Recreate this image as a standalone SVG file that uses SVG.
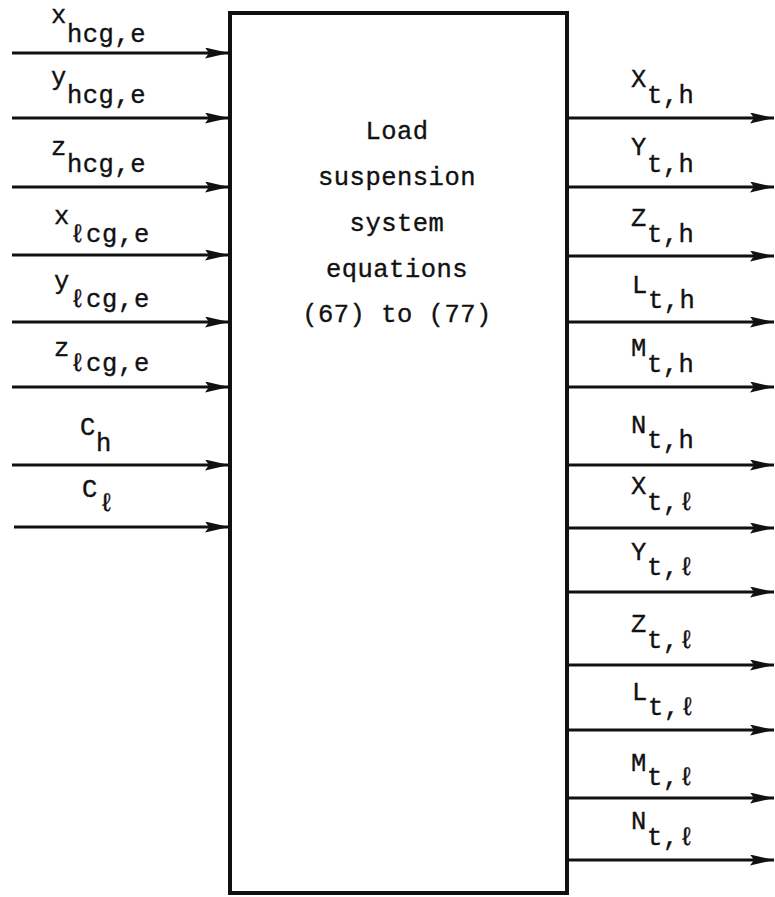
<svg xmlns="http://www.w3.org/2000/svg" width="775" height="897" viewBox="0 0 775 897">
<style>
text{font-family:"Liberation Mono","DejaVu Sans Mono",monospace;font-size:25.5px;letter-spacing:0.5px;fill:#111;stroke:#111;stroke-width:0.35}
.c{text-anchor:middle}
.ln{stroke:#111;stroke-width:3;fill:none;marker-end:url(#ah)}
.box{fill:#fff;stroke:#111;stroke-width:4}
</style>
<defs>
<marker id="ah" markerUnits="userSpaceOnUse" viewBox="0 0 24 11" markerWidth="24" markerHeight="11" refX="24" refY="5.5" orient="auto">
<path d="M0,0 L24,5.5 L0,11 L4,5.5 z" fill="#111"/>
</marker>
</defs>
<rect width="775" height="897" fill="#fff"/>
<g id="node-load-suspension">
<rect class="box" x="230" y="13" width="337" height="880"/>
<text class="c" x="397" y="139">Load</text>
<text class="c" x="397" y="185">suspension</text>
<text class="c" x="397" y="231">system</text>
<text class="c" x="397" y="277">equations</text>
<text class="c" x="397" y="322">(67) to (77)</text>
</g>
<g id="connectors">
<line class="ln" x1="12" y1="53" x2="229" y2="53"/>
<line class="ln" x1="12" y1="118" x2="229" y2="118"/>
<line class="ln" x1="12" y1="187" x2="229" y2="187"/>
<line class="ln" x1="12" y1="255" x2="229" y2="255"/>
<line class="ln" x1="12" y1="322" x2="229" y2="322"/>
<line class="ln" x1="12" y1="387" x2="229" y2="387"/>
<line class="ln" x1="12" y1="465" x2="229" y2="465"/>
<line class="ln" x1="14" y1="527" x2="229" y2="527"/>
<line class="ln" x1="567" y1="118" x2="774" y2="118"/>
<line class="ln" x1="567" y1="187" x2="774" y2="187"/>
<line class="ln" x1="567" y1="256" x2="774" y2="256"/>
<line class="ln" x1="567" y1="322" x2="774" y2="322"/>
<line class="ln" x1="567" y1="387" x2="774" y2="387"/>
<line class="ln" x1="567" y1="465" x2="774" y2="465"/>
<line class="ln" x1="567" y1="528" x2="774" y2="528"/>
<line class="ln" x1="567" y1="592" x2="774" y2="592"/>
<line class="ln" x1="567" y1="665" x2="774" y2="665"/>
<line class="ln" x1="567" y1="730" x2="774" y2="730"/>
<line class="ln" x1="567" y1="798" x2="774" y2="798"/>
<line class="ln" x1="567" y1="860" x2="774" y2="860"/>
</g>
<g id="input-labels">
<text x="51" y="23">x<tspan x="67" y="42">hcg,e</tspan></text>
<text x="51" y="85">y<tspan x="67" y="103">hcg,e</tspan></text>
<text x="51" y="155">z<tspan x="67" y="172">hcg,e</tspan></text>
<text x="54" y="224">x<tspan x="70 86 102 118 134" y="242">ℓcg,e</tspan></text>
<text x="54" y="289">y<tspan x="70 86 102 118 134" y="307">ℓcg,e</tspan></text>
<text x="54" y="356">z<tspan x="70 86 102 118 134" y="371">ℓcg,e</tspan></text>
<text x="80" y="435">C<tspan x="96" y="451">h</tspan></text>
<text x="82" y="497">C<tspan x="99" y="511">ℓ</tspan></text>
</g>
<g id="output-labels">
<text x="631" y="87">X<tspan x="647" y="103">t,h</tspan></text>
<text x="631" y="155">Y<tspan x="647" y="172">t,h</tspan></text>
<text x="631" y="226">Z<tspan x="647" y="242">t,h</tspan></text>
<text x="632" y="293">L<tspan x="648" y="308">t,h</tspan></text>
<text x="631" y="356">M<tspan x="647" y="372">t,h</tspan></text>
<text x="631" y="433">N<tspan x="647" y="448">t,h</tspan></text>
<text x="631" y="494">X<tspan x="647 663 679" y="510">t,ℓ</tspan></text>
<text x="631" y="560">Y<tspan x="647 663 679" y="575">t,ℓ</tspan></text>
<text x="631" y="632">Z<tspan x="647 663 679" y="648">t,ℓ</tspan></text>
<text x="632" y="700">L<tspan x="648 664 680" y="715">t,ℓ</tspan></text>
<text x="631" y="771">M<tspan x="647 663 679" y="785">t,ℓ</tspan></text>
<text x="631" y="829">N<tspan x="647 663 679" y="845">t,ℓ</tspan></text>
</g>
</svg>
